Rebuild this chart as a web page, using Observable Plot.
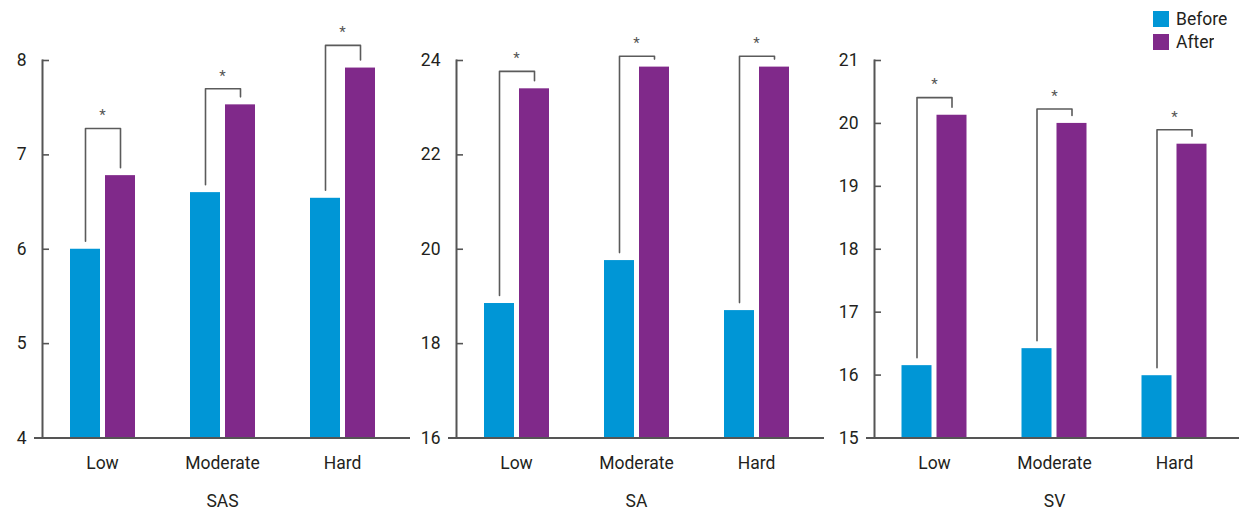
<!DOCTYPE html>
<html><head><meta charset="utf-8">
<script src="https://cdn.jsdelivr.net/npm/d3@7"></script>
<script src="https://cdn.jsdelivr.net/npm/@observablehq/plot@0.6"></script>
<style>
body{margin:0;width:1239px;height:512px;position:relative;overflow:hidden;background:#fff;font-family:Roboto,sans-serif}
.panel{position:absolute;top:0}
.panel svg{overflow:visible}
#legend{position:absolute;left:1153px;top:10px}
#legend .lg-swatches{font-family:Roboto,sans-serif !important;font-size:17.5px !important;color:#231f20 !important;margin:0 !important}
#legend .lg-swatch{padding-bottom:4px !important;line-height:18.5px !important}
#legend .lg-swatch > svg{margin-right:7px !important}
</style></head><body>
<div id="p1" class="panel" style="left:0px"></div>
<div id="p2" class="panel" style="left:420px"></div>
<div id="p3" class="panel" style="left:840px"></div>
<div id="legend"></div>
<script>
const groups = ["Low", "Moderate", "Hard"];
const periods = ["Before", "After"];
const colors = ["#0096d6", "#80298a"];

const sasBefore = [6.0, 6.6, 6.54];
const sasAfter = [6.78, 7.53, 7.92];
const sasSig = [7.28, 7.70, 8.16];
const sasTicks = [4, 5, 6, 7, 8];

const saBefore = [18.85, 19.76, 18.70];
const saAfter = [23.40, 23.86, 23.86];
const saSig = [23.77, 24.09, 24.09];
const saTicks = [16, 18, 20, 22, 24];

const svBefore = [16.15, 16.42, 15.99];
const svAfter = [20.13, 20.00, 19.67];
const svSig = [20.41, 20.23, 19.90];
const svTicks = [15, 16, 17, 18, 19, 20, 21];

const sigMark = "*";
const axisColor = "#555";
const textColor = "#231f20";

function panel(cfg) {
  const {label, before, after, sig, ticks, width, marginLeft, marginRight} = cfg;
  const H = 512, mt = 60, mb = 74.5;
  const y0 = ticks[0], y1 = ticks[ticks.length - 1];
  const rows = groups.flatMap((g, i) => [
    {group: g, period: "Before", value: before[i]},
    {group: g, period: "After", value: after[i]}
  ]);
  const unit = (y1 - y0) / (H - mt - mb);
  const gap = 8 * unit;
  const br = groups.flatMap((g, i) => [
    {group: g, period: "Before", y: before[i] + gap},
    {group: g, period: "Before", y: sig[i]},
    {group: g, period: "After", y: sig[i]},
    {group: g, period: "After", y: after[i] + gap}
  ]);
  const stars = groups.map((g, i) => ({group: g, y: sig[i], t: sigMark}));
  const frameW = width - marginLeft - marginRight;
  const step = 120;
  const fxPO = Math.max(0, (frameW / step - 3) / 2);
  const xPO = (step / 35 - 2 + 5 / 35) / 2;
  return Plot.plot({
    width, height: H, marginTop: mt, marginBottom: mb, marginLeft, marginRight,
    style: {fontFamily: "Roboto, sans-serif", fontSize: "17.5px", color: textColor, overflow: "visible", background: "transparent"},
    fx: {domain: groups, paddingInner: 0, paddingOuter: fxPO, align: 0.35, label},
    x: {domain: periods, paddingInner: 5 / 35, paddingOuter: xPO, axis: null},
    y: {domain: [y0, y1], ticks, axis: null},
    color: {domain: periods, range: colors},
    marks: [
      Plot.barY(rows, {fx: "group", x: "period", y1: y0, y2: "value", fill: "period"}),
      Plot.line(br, {fx: "group", x: "period", y: "y", stroke: "#5b5b5b", strokeWidth: 1.6}),
      Plot.text(stars, {fx: "group", y: "y", text: "t", dy: -13, fontSize: 15, fill: "#555"}),
      Plot.ruleY([y0], {stroke: axisColor, strokeWidth: 2, insetLeft: -8, insetRight: -8}),
      Plot.axisY({ticks, tickFormat: (d) => String(d), tickSize: -7, tickPadding: 23, stroke: axisColor, strokeWidth: 1.6, fill: textColor}),
      Plot.frame({anchor: "left", facetAnchor: "left", stroke: axisColor, strokeWidth: 2}),
      Plot.axisFx({anchor: "bottom", tickSize: 0, tickPadding: 19, label, labelAnchor: "center", labelOffset: 69, fill: textColor})
    ]
  });
}

document.getElementById("p1").append(panel({label: "SAS", before: sasBefore, after: sasAfter, sig: sasSig, ticks: sasTicks, width: 420, marginLeft: 38, marginRight: 12}));
document.getElementById("p2").append(panel({label: "SA", before: saBefore, after: saAfter, sig: saSig, ticks: saTicks, width: 420, marginLeft: 32, marginRight: 17.3}));
document.getElementById("p3").append(panel({label: "SV", before: svBefore, after: svAfter, sig: svSig, ticks: svTicks, width: 399, marginLeft: 31.5, marginRight: 0}));

document.getElementById("legend").append(Plot.legend({
  color: {domain: periods, range: colors},
  legend: "swatches", columns: 1, swatchSize: 16, className: "lg"
}));
</script>
</body></html>
